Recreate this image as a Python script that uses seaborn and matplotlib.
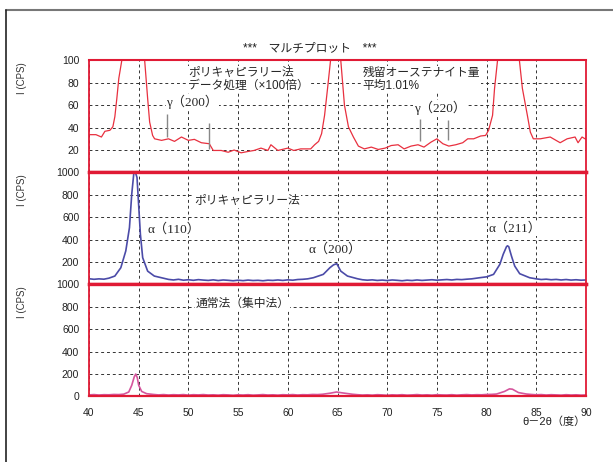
import matplotlib
matplotlib.use('Agg')
import matplotlib.pyplot as plt
from matplotlib.lines import Line2D
from matplotlib.ticker import MultipleLocator
import seaborn as sns

# ポリキャピラリー法 データ処理 (x100) - 上段
top_2theta = [40.0, 40.7, 41.25, 41.6, 42.1, 42.4, 42.6, 42.8, 43.0, 43.3, 43.6, 44.6, 45.4, 45.6,
              45.9, 46.1, 46.4, 46.6, 47.3, 48.0, 48.6, 49.3, 50.0, 50.6, 51.3, 52.1, 52.5, 53.3,
              54.0, 54.6, 55.3, 56.0, 56.6, 57.3, 58.0, 58.3, 59.0, 60.0, 60.6, 61.3, 62.3, 62.7,
              63.1, 63.4, 63.7, 64.0, 64.3, 64.8, 65.33, 65.7, 66.1, 66.6, 67.1, 67.7, 68.4, 69.1,
              69.8, 70.4, 71.1, 71.7, 72.4, 73.1, 73.7, 74.4, 75.0, 75.6, 76.2, 76.9, 77.6, 78.1,
              78.7, 79.4, 79.9, 80.2, 80.6, 80.8, 81.1, 82.2, 83.3, 83.6, 84.1, 84.4, 84.7, 85.4,
              86.4, 87.4, 88.1, 88.9, 89.2, 89.6, 90.0]
top_cps = [33.7, 33.7, 31.6, 36.7, 37.6, 40.7, 49.7, 66, 84, 100, 130, 400, 130, 100,
           66, 45, 33, 30, 28.6, 30, 27.7, 31.6, 28.6, 29.5, 26.5, 25.6, 19.6, 19.6,
           18, 20, 17.5, 18.7, 19.6, 21.7, 19.6, 24.7, 19.6, 21.7, 19.6, 21, 21, 24.7,
           27.7, 34.6, 51, 75, 100, 250, 100, 60, 40.7, 31.6, 23.5, 21, 22.6, 20.5,
           21.7, 24, 24.7, 21, 23.5, 24.7, 22.6, 27, 30, 25.6, 23.5, 24.7, 26.5, 30,
           30, 32.5, 33, 37.6, 51, 75, 100, 350, 100, 75, 51, 36, 30, 30,
           31.6, 26.5, 30, 31.6, 26.5, 31.6, 29.5]

# ポリキャピラリー法 - 中段
mid_2theta = [40.0, 40.5, 41.0, 41.5, 42.0, 42.6, 43.2, 43.7, 44.07, 44.3, 44.5, 44.63, 44.83,
              44.97, 45.17, 45.4, 45.9, 46.57, 47.57, 48.0, 48.5, 49.0, 49.5, 50.0, 50.5, 51.0,
              51.5, 52.0, 52.5, 53.0, 53.5, 54.0, 54.5, 55.0, 55.5, 56.0, 56.5, 57.0, 57.5,
              58.0, 58.5, 59.0, 59.5, 60.0, 60.5, 61.0, 61.5, 62.0, 62.57, 63.57, 64.23, 64.6,
              64.93, 65.33, 66.0, 67.0, 67.5, 68.0, 68.5, 69.0, 69.5, 70.0, 70.5, 71.0, 71.5,
              72.0, 72.5, 73.0, 73.5, 74.0, 74.5, 75.0, 75.5, 76.0, 76.5, 77.0, 77.5, 78.0,
              78.5, 79.3, 80.0, 80.7, 81.33, 81.67, 82.0, 82.1, 82.23, 82.5, 82.83, 83.33,
              84.33, 85.0, 85.5, 86.0, 86.5, 87.0, 87.5, 88.0, 88.5, 89.0, 89.5, 90.0]
mid_cps = [51, 46, 50, 47, 56, 75, 149, 299, 507, 806, 985, 1010, 955,
           746, 448, 239, 119, 75, 54, 45, 40, 46, 38, 42, 37, 43,
           39, 36, 41, 35, 40, 37, 33, 38, 34, 39, 35, 37, 33,
           38, 36, 40, 36, 41, 38, 44, 46, 50, 60, 90, 149, 175,
           185, 119, 75, 51, 42, 38, 41, 36, 39, 35, 40, 37, 33,
           38, 35, 40, 36, 39, 42, 38, 41, 44, 40, 45, 43, 47,
           50, 60, 68, 90, 179, 269, 337, 345, 337, 254, 164, 96,
           60, 50, 44, 47, 42, 45, 40, 44, 39, 42, 38, 40]

# 通常法 (集中法) - 下段
low_2theta = [40.0, 40.5, 41.0, 41.5, 42.0, 42.5, 43.0, 43.5, 44.0, 44.3, 44.55, 44.7, 44.85,
              45.0, 45.3, 45.8, 46.5, 47.0, 47.5, 48.0, 48.5, 49.0, 49.5, 50.0, 50.5, 51.0,
              51.5, 52.0, 52.5, 53.0, 53.5, 54.0, 54.5, 55.0, 55.5, 56.0, 56.5, 57.0, 57.5,
              58.0, 58.5, 59.0, 59.5, 60.0, 60.5, 61.0, 61.5, 62.0, 62.5, 63.0, 63.5, 64.3,
              64.9, 65.5, 66.5, 67.0, 67.5, 68.0, 68.5, 69.0, 69.5, 70.0, 70.5, 71.0, 71.5,
              72.0, 72.5, 73.0, 73.5, 74.0, 74.5, 75.0, 75.5, 76.0, 76.5, 77.0, 77.5, 78.0,
              78.5, 79.0, 79.5, 80.0, 80.5, 81.0, 81.8, 82.3, 82.6, 83.2, 84.0, 84.5, 85.0,
              85.5, 86.0, 86.5, 87.0, 87.5, 88.0, 88.5, 89.0, 89.5, 90.0]
low_cps = [14, 17, 13, 16, 15, 18, 17, 21, 40, 100, 175, 200, 170,
           100, 45, 25, 18, 14, 17, 13, 16, 14, 17, 12, 16, 14,
           17, 13, 15, 12, 16, 14, 11, 15, 13, 16, 12, 14, 17,
           13, 15, 12, 16, 14, 17, 13, 16, 15, 18, 17, 20, 30,
           40, 32, 20, 16, 13, 15, 12, 16, 14, 11, 15, 13, 16,
           12, 14, 17, 13, 15, 12, 16, 14, 13, 16, 12, 15, 17,
           14, 16, 15, 18, 19, 22, 45, 68, 65, 35, 22, 18, 15,
           17, 13, 16, 14, 12, 16, 13, 15, 12, 14]

# γ ピーク位置の目印
gamma_x = [47.8, 52.1, 73.3, 76.1]
gamma_lo = [31.6, 20.5, 27.7, 28.6]
gamma_hi = [51.8, 43.7, 48.0, 47.0]

x_ticks = [40, 45, 50, 55, 60, 65, 70, 75, 80, 85, 90]
top_yticks = [20, 40, 60, 80, 100]
mid_yticks = [200, 400, 600, 800, 1000]
low_yticks = [0, 200, 400, 600, 800, 1000]

sns.set_style('white')
plt.rcParams['font.family'] = ['Liberation Sans', 'Noto Sans CJK JP']

RED = '#e01a35'
fig = plt.figure(figsize=(6.13, 4.62), dpi=100)
left, width = 89 / 613, 497 / 613
h = 0.2425
base = 0.1418
axes = [fig.add_axes([left, base + 2 * h, width, h]),
        fig.add_axes([left, base + h, width, h]),
        fig.add_axes([left, base, width, h])]

sns.lineplot(x=top_2theta, y=top_cps, ax=axes[0], color='#e8303f', linewidth=0.9)
sns.lineplot(x=mid_2theta, y=mid_cps, ax=axes[1], color='#4b4ba8', linewidth=1.2)
sns.lineplot(x=low_2theta, y=low_cps, ax=axes[2], color='#d5559c', linewidth=1.2)

ylims = [(0, 100), (0, 1000), (0, 1000)]
yticks = [top_yticks, mid_yticks, low_yticks]
yminor = [4, 40, 40]
for i, ax in enumerate(axes):
    ax.set_xlim(40, 90)
    ax.set_ylim(*ylims[i])
    ax.set_xticks(x_ticks)
    ax.set_yticks(yticks[i])
    ax.yaxis.set_minor_locator(MultipleLocator(yminor[i]))
    ax.grid(True, which='major', color='#333333', linestyle=(0, (3, 3)), linewidth=0.7)
    ax.set_axisbelow(True)
    ax.set_xlabel('')
    ax.set_ylabel('')
    ax.tick_params(axis='y', which='major', length=5, width=0.8, color='#555555',
                   labelsize=7.5, labelcolor='#222222', pad=2)
    ax.tick_params(axis='y', which='minor', length=2.5, width=0.6, color='#555555')
    for s in ax.spines.values():
        s.set_color(RED)
        s.set_linewidth(1.3)
    fig.text(22 / 613, base + (3 - i) * h - 0.003, 'I (CPS)', rotation=90, ha='center', va='top',
             fontsize=7, color='#333333')

axes[0].spines['top'].set_linewidth(1.5)
axes[0].spines['bottom'].set_linewidth(2.4)
axes[1].spines['top'].set_linewidth(2.4)
axes[1].spines['bottom'].set_linewidth(2.4)
axes[2].spines['top'].set_linewidth(2.4)
axes[2].spines['bottom'].set_linewidth(1.6)

for ax in axes[:2]:
    ax.tick_params(axis='x', which='both', bottom=False, labelbottom=False)
axes[2].xaxis.set_minor_locator(MultipleLocator(0.5))
axes[2].tick_params(axis='x', which='major', length=6, width=0.8, color='#555555',
                    labelsize=7.5, labelcolor='#222222', pad=2)
axes[2].tick_params(axis='x', which='minor', length=3, width=0.6, color='#555555')

box = dict(facecolor='white', edgecolor='none', pad=0.5)
jp = 8.5
ser = ['Liberation Serif', 'Noto Sans CJK JP']

ax = axes[0]
ax.vlines(gamma_x, gamma_lo, gamma_hi, color='#888888', linewidth=1)
ax.text(50, 83, 'ポリキャピラリー法\nデータ処理（×100倍）', fontsize=jp, va='center',
        linespacing=1.1, bbox=box)
ax.text(67.5, 83, '残留オーステナイト量\n平均1.01%', fontsize=jp, va='center',
        linespacing=1.1, bbox=box)
ax.text(50.4, 63, 'γ（200）', fontsize=9.5, ha='center', va='center', family=ser, bbox=box)
ax.text(75.3, 58, 'γ（220）', fontsize=9.5, ha='center', va='center', family=ser, bbox=box)

ax = axes[1]
ax.text(50.6, 746, 'ポリキャピラリー法', fontsize=jp, va='center', bbox=box)
ax.text(45.9, 493, 'α（110）', fontsize=9.5, va='center', family=ser, bbox=box)
ax.text(64.8, 313, 'α（200）', fontsize=9.5, ha='center', va='center', family=ser, bbox=box)
ax.text(82.9, 498, 'α（211）', fontsize=9.5, ha='center', va='center', family=ser, bbox=box)

ax = axes[2]
ax.text(50.7, 830, '通常法（集中法）', fontsize=jp, va='center', bbox=box)

fig.text(0.506, 0.896, '***　マルチプロット　***', ha='center', va='center', fontsize=8.5,
         color='#222222')
fig.text(left + width, 0.087, 'θ－2θ（度）', ha='right', va='center',
         fontsize=8, color='#222222', family=['Liberation Sans', 'Noto Sans CJK JP'])

# 外枠
fig.add_artist(Line2D([6 / 613, 1], [1 - 10 / 462, 1 - 10 / 462], color='#777777',
                      linewidth=1.5, transform=fig.transFigure))
fig.add_artist(Line2D([6 / 613, 6 / 613], [0, 1 - 10 / 462], color='#222222',
                      linewidth=1.2, transform=fig.transFigure))

fig.savefig('out.png', dpi=100, facecolor='white')
